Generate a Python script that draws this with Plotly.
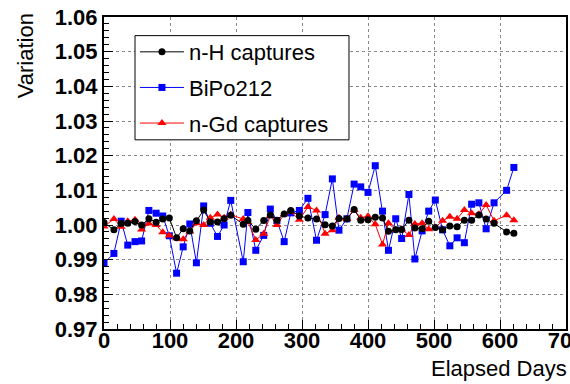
import plotly.graph_objects as go

days = [0, 15, 26, 36, 47, 57, 68, 79, 89, 99, 110, 120, 130, 140, 151, 161, 172, 182, 192,
        211, 218, 230, 242, 252, 262, 273, 283, 296, 309, 322, 335, 346, 356, 368, 379, 389,
        400, 411, 422, 431, 442, 451, 462, 471, 482, 492, 502, 513, 524, 535, 546, 557, 568,
        579, 591, 610, 621]

nh = [1.0007, 0.9986, 1.0004, 1.0005, 1.0010, 1.0000, 1.0018, 1.0008, 1.0017, 1.0020,
      0.9963, 0.9989, 0.9983, 1.0012, 1.0043, 1.0009, 1.0009, 1.0018, 1.0028,
      1.0002, 1.0013, 0.9988, 1.0013, 1.0029, 1.0014, 1.0032, 1.0042, 1.0026, 1.0020,
      1.0017, 1.0001, 0.9997, 1.0019, 1.0017, 1.0045, 1.0014, 1.0015, 1.0022, 1.0020,
      0.9982, 0.9986, 0.9987, 1.0014, 0.9991, 0.9989, 1.0011, 0.9993, 0.9986, 0.9997,
      0.9995, 1.0014, 1.0014, 1.0029, 1.0017, 1.0005, 0.9980, 0.9976]

bipo = [0.9890, 0.9918, 1.0011, 0.9942, 0.9952, 0.9954, 1.0042, 1.0034, 1.0026, 0.9969,
        0.9861, 0.9937, 1.0003, 0.9891, 1.0055, 1.0005, 0.9967, 1.0000, 1.0071,
        0.9894, 1.0036, 0.9927, 0.9970, 1.0046, 1.0013, 0.9952, 1.0035, 1.0042, 1.0077,
        0.9956, 1.0030, 1.0133, 0.9985, 1.0018, 1.0118, 1.0110, 1.0094, 1.0171, 1.0040,
        0.9927, 1.0018, 0.9961, 1.0088, 0.9902, 0.9983, 1.0040, 1.0072, 0.9986, 0.9940,
        0.9963, 0.9949, 1.0060, 1.0064, 0.9989, 1.0064, 1.0100, 1.0166]

ngd = [0.9996, 1.0017, 0.9995, 1.0011, 1.0015, 0.9987, 1.0004, 1.0000, 0.9979, 0.9970,
       0.9962, 0.9959, 0.9981, 1.0005, 1.0000, 1.0021, 1.0030, 1.0021, 1.0030,
       1.0017, 1.0009, 0.9957, 0.9975, 1.0027, 1.0000, 1.0031, 1.0038, 1.0015, 1.0052,
       1.0042, 0.9975, 0.9985, 1.0021, 1.0017, 1.0043, 1.0021, 1.0025, 1.0002, 0.9944,
       1.0005, 0.9986, 0.9988, 0.9971, 1.0003, 1.0005, 0.9988, 0.9993, 1.0012, 1.0024,
       1.0018, 1.0043, 1.0034, 1.0031, 1.0058, 1.0012, 1.0028, 1.0014]

x_ticks = [0, 100, 200, 300, 400, 500, 600, 700]
y_ticks = [0.97, 0.98, 0.99, 1.00, 1.01, 1.02, 1.03, 1.04, 1.05, 1.06]

FONT = "Liberation Sans, Arial, sans-serif"

fig = go.Figure()
fig.add_trace(go.Scatter(x=days, y=bipo, mode="lines+markers", name="BiPo212",
                         line=dict(color="#0000ff", width=1),
                         marker=dict(symbol="square", size=7, color="#0000ff"),
                         legendrank=2, legendgroup="b"))
fig.add_trace(go.Scatter(x=days, y=ngd, mode="lines+markers", name="n-Gd captures",
                         line=dict(color="#ff0000", width=1),
                         marker=dict(symbol="triangle-up", size=8, color="#ff0000"),
                         legendrank=3, legendgroup="c"))
fig.add_trace(go.Scatter(x=days, y=nh, mode="lines+markers", name="n-H captures",
                         line=dict(color="black", width=1),
                         marker=dict(symbol="circle", size=7, color="black"),
                         legendrank=1, legendgroup="a"))

tickfont = dict(family=FONT, size=22, color="black", weight="bold")

fig.update_xaxes(range=[0, 700], tickvals=x_ticks, ticktext=[str(v) for v in x_ticks],
                 showline=True, linecolor="black", linewidth=2, mirror=True,
                 ticks="inside", ticklen=9, tickwidth=1, tickcolor="black",
                 minor=dict(dtick=20, ticks="inside", ticklen=5, tickcolor="black", showgrid=False),
                 showgrid=True, gridcolor="#888888", griddash="dot", gridwidth=1,
                 zeroline=False, tickfont=tickfont, ticklabeloverflow="allow",
                 ticklabelstandoff=-9, automargin=False)
fig.update_yaxes(range=[0.97, 1.06], tickvals=y_ticks, ticktext=[f"{v:.2f}" for v in y_ticks],
                 showline=True, linecolor="black", linewidth=2, mirror=True,
                 ticks="inside", ticklen=9, tickwidth=1, tickcolor="black",
                 minor=dict(dtick=0.002, ticks="inside", ticklen=5, tickcolor="black", showgrid=False),
                 showgrid=True, gridcolor="#888888", griddash="dot", gridwidth=1,
                 zeroline=False, tickfont=tickfont, ticklabeloverflow="allow",
                 automargin=False)

titlefont = dict(family=FONT, size=22, color="black")
fig.add_annotation(text="Variation", xref="paper", yref="paper", x=-0.171, y=1.02,
                   xanchor="center", yanchor="top", textangle=-90, showarrow=False,
                   font=titlefont)
fig.add_annotation(text="Elapsed Days", xref="paper", yref="paper", x=1.006, y=-0.125,
                   xanchor="right", yanchor="middle", showarrow=False, font=titlefont)

# legend frame (white box with black border)
fig.add_shape(type="rect", xref="paper", yref="paper",
              x0=0.0671, x1=0.5303, y0=0.6063, y1=0.9403,
              line=dict(color="black", width=1), fillcolor="white", layer="above")

fig.update_layout(
    width=570, height=384,
    margin=dict(l=104, r=4, t=17, b=55),
    paper_bgcolor="white", plot_bgcolor="white",
    showlegend=True,
    legend=dict(x=0.067, y=0.955, xanchor="left", yanchor="top",
                bgcolor="rgba(0,0,0,0)", borderwidth=0,
                font=dict(family=FONT, size=22, color="black"),
                tracegroupgap=4, itemwidth=44),
)

fig.write_html("out.html")
